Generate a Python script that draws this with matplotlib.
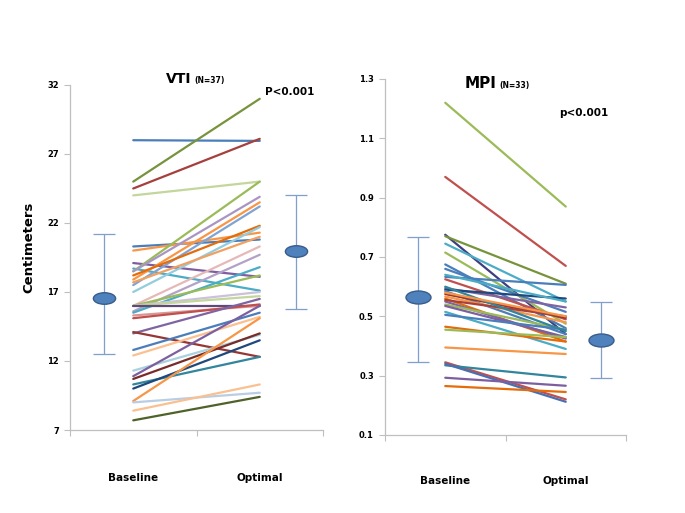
import matplotlib
matplotlib.use("Agg")
import matplotlib.pyplot as plt
from matplotlib.path import Path
import numpy as np

plt.rcParams['font.family'] = ['DejaVu Sans']

# ---------------- data ----------------
categories = ["Baseline", "Optimal"]

vti_baseline = [28.0, 25.0, 24.5, 24.0, 20.3, 20.0, 19.1, 18.7, 18.5, 18.5,
                17.9, 17.5, 18.2, 17.0, 16.0, 15.6, 15.5, 16.0, 16.0, 16.0,
                16.0, 15.3, 15.1, 14.0, 14.1, 12.8, 12.4, 11.3, 10.9, 10.7,
                10.3, 10.0, 9.1, 9.0, 8.4, 7.7, 17.7]
vti_optimal = [27.95, 31.0, 28.1, 25.0, 20.8, 21.3, 18.1, 17.1, 25.0, 23.9,
               23.5, 23.2, 21.8, 21.7, 20.3, 19.7, 18.8, 18.2, 17.0, 16.7,
               16.0, 16.0, 16.1, 16.5, 12.3, 15.5, 15.2, 13.9, 16.0, 14.0,
               12.3, 13.5, 15.1, 9.7, 10.3, 9.4, 21.0]
vti_colors = ['#4A7EBB', '#77933C', '#A5403D', '#C3D69B', '#4A7EBB', '#F79646',
              '#7D5FA0', '#4BACC6', '#9BBB59', '#A995C4', '#F79646', '#7FA4D4',
              '#E46C0A', '#93CDDD', '#E6B9B8', '#B3A2C7', '#4BACC6', '#9BBB59',
              '#CCC1DA', '#C3D69B', '#5F497A', '#D99694', '#C0504D', '#8064A2',
              '#953735', '#4A7EBB', '#FAC090', '#A9D1DE', '#7D5FA0', '#772C2A',
              '#31859C', '#1F497D', '#F79646', '#B9CDE5', '#FAC090', '#4F6228',
              '#F0A060']
vti_mean = [16.6, 20.0]
vti_err_low = [12.5, 15.8]
vti_err_high = [21.2, 24.05]

mpi_baseline = [1.22, 0.97, 0.775, 0.77, 0.745, 0.715, 0.675, 0.66, 0.633, 0.625,
                0.595, 0.59, 0.585, 0.575, 0.567, 0.56, 0.55, 0.555, 0.54, 0.535,
                0.515, 0.505, 0.465, 0.455, 0.395, 0.345, 0.335, 0.34, 0.293, 0.265,
                0.60, 0.64, 0.58]
mpi_optimal = [0.87, 0.67, 0.44, 0.61, 0.55, 0.475, 0.46, 0.515, 0.606, 0.49,
               0.53, 0.56, 0.44, 0.495, 0.48, 0.415, 0.425, 0.50, 0.455, 0.43,
               0.39, 0.455, 0.415, 0.43, 0.373, 0.22, 0.294, 0.212, 0.266, 0.245,
               0.45, 0.55, 0.50]
mpi_colors = ['#9BBB59', '#C0504D', '#403D80', '#77933C', '#4BACC6', '#9BBB59',
              '#4A7EBB', '#4A7EBB', '#4A7EBB', '#C0504D', '#8064A2', '#1F497D',
              '#4A7EBB', '#953735', '#F79646', '#E46C0A', '#8064A2', '#A5403D',
              '#9BBB59', '#7D5FA0', '#4BACC6', '#4A7EBB', '#E46C0A', '#9BBB59',
              '#F79646', '#C0504D', '#31859C', '#4A6FB0', '#7D5FA0', '#E46C0A',
              '#31859C', '#4BACC6', '#F79646']
mpi_mean = [0.566, 0.42]
mpi_err_low = [0.345, 0.291]
mpi_err_high = [0.766, 0.547]

# ---------------- figure ----------------
W, H = 685, 513
fig = plt.figure(figsize=(W / 100, H / 100), dpi=100)

line_x = [0.5, 1.5]
mean_x = [0.27, 1.79]

ell = Path.unit_circle()
ell_marker = Path(ell.vertices * np.array([1.0, 0.52]), ell.codes)

spine_col = '#BFBFBF'


def make_panel(rect, base, opt, colors, mean, lo, hi, ylim, yticks, yfmt, label_y, msize):
    ax = fig.add_axes(rect)
    for b, o, c in zip(base, opt, colors):
        ax.plot(line_x, [b, o], color=c, lw=1.6, solid_capstyle='round', zorder=2)
    m = np.array(mean)
    err = np.array([m - np.array(lo), np.array(hi) - m])
    ax.errorbar(mean_x, m, yerr=err, fmt='none', ecolor='#7F9FCF', elinewidth=0.9,
                capsize=8, capthick=0.9, zorder=3)
    ax.plot(mean_x, m, linestyle='none', marker=ell_marker, markersize=msize,
            markerfacecolor='#4F81BD', markeredgecolor='#385D8A', markeredgewidth=1.0,
            zorder=4)
    ax.set_xlim(0, 2)
    ax.set_ylim(*ylim)
    ax.set_yticks(yticks)
    ax.set_yticklabels([yfmt(v) for v in yticks], fontsize=6, fontweight='bold')
    ax.set_xticks([0, 1, 2])
    ax.set_xticklabels([])
    for s in ['top', 'right']:
        ax.spines[s].set_visible(False)
    for s in ['left', 'bottom']:
        ax.spines[s].set_color(spine_col)
        ax.spines[s].set_linewidth(0.9)
    ax.tick_params(axis='both', colors=spine_col, labelcolor='black', length=4, width=0.8)
    ax.tick_params(axis='y', pad=4)
    for xc, name in zip(line_x, categories):
        ax.text(xc, label_y, name, transform=ax.get_xaxis_transform(), ha='center',
                va='center', fontsize=7.5, fontweight='bold')
    return ax


# left panel: axes x 70..323, y 85..430
axL = make_panel([70 / W, 1 - 430 / H, 253 / W, 345 / H],
                 vti_baseline, vti_optimal, vti_colors, vti_mean, vti_err_low, vti_err_high,
                 (7, 32), [7, 12, 17, 22, 27, 32], lambda v: f"{v:d}", -0.139, 16)
axL.set_ylabel("Centimeters", fontsize=9.5, fontweight='bold')
axL.yaxis.set_label_coords(-0.138, 0.53)

# right panel: axes x 385..626, y 79..435
axR = make_panel([385 / W, 1 - 435 / H, 241 / W, 356 / H],
                 mpi_baseline, mpi_optimal, mpi_colors, mpi_mean, mpi_err_low, mpi_err_high,
                 (0.1, 1.3), [0.1, 0.3, 0.5, 0.7, 0.9, 1.1, 1.3], lambda v: f"{v:.1f}", -0.129, 18)

renderer = fig.canvas.get_renderer()


def title_pair(x, y, big, small, bigsize):
    t = fig.text(x / W, 1 - y / H, big, fontweight='bold', fontsize=bigsize,
                 ha='left', va='baseline')
    bb = t.get_window_extent(renderer=renderer)
    fig.text((bb.x1 + 3) / W, 1 - y / H, small, fontweight='bold', fontsize=5.5,
             ha='left', va='baseline')


title_pair(166, 83, "VTI", "(N=37)", 10)
title_pair(465, 88, "MPI", "(N=33)", 11)

fig.text(265 / W, 1 - 92 / H, "P<0.001", fontweight='bold', fontsize=7.5, ha='left', va='center')
fig.text(559 / W, 1 - 113 / H, "p<0.001", fontweight='bold', fontsize=7.5, ha='left', va='center')

fig.savefig("out.png", dpi=100)
